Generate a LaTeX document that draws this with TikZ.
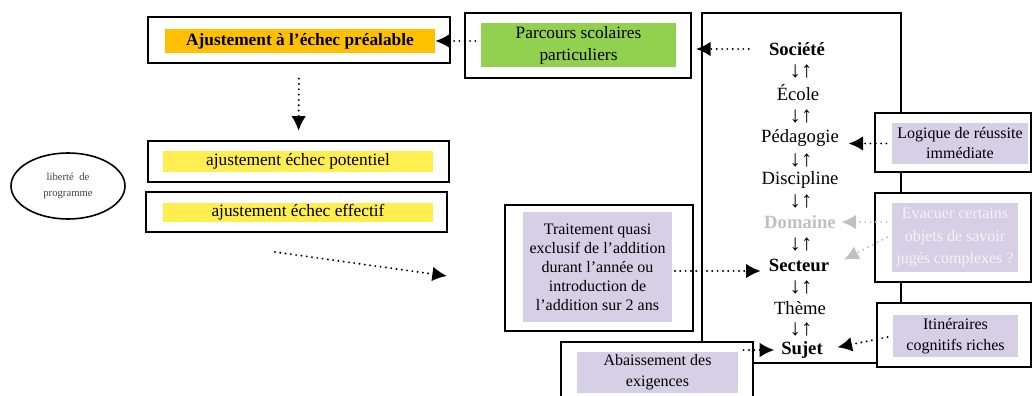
\documentclass[tikz,border=0pt]{standalone}
\usepackage{fontspec}
\setmainfont{Liberation Serif}
\usetikzlibrary{arrows.meta,fit,shapes.geometric}
\definecolor{PrevOrange}{RGB}{255,192,0}
\definecolor{PathGreen}{RGB}{146,208,80}
\definecolor{AdjYellow}{RGB}{255,238,80}
\definecolor{TagLavender}{RGB}{215,207,230}
\definecolor{FadeGray}{RGB}{192,192,192}
\definecolor{FadeText}{RGB}{244,244,244}

\tikzset{
  frame/.style={draw, line width=1.4pt, fill=white, inner sep=0pt},
  sized/.style 2 args={minimum width=#1*0.75pt, minimum height=#2*0.75pt},
  band/.style={inner sep=0pt, align=center},
  tag/.style={band, fill=TagLavender, font=\fontsize{12}{16}\selectfont},
  level/.style={inner sep=1pt, font=\fontsize{14}{16}\selectfont},
  keylevel/.style={level, font=\fontsize{14}{16}\selectfont\bfseries},
  updown/.style={inner sep=0pt, font=\fontsize{17}{18}\selectfont},
  link/.style={line width=1.6pt, line cap=round, dash pattern=on 0pt off 4pt,
    -{Latex[length=11pt,width=11pt]}},
  fadelink/.style={link, draw=FadeGray, -{Latex[length=11pt,width=11pt,color=FadeGray]}}
}

\begin{document}
\begin{tikzpicture}[x=0.75pt,y=-0.75pt]
  \clip (0,0) rectangle (1033,396);

  % chain of levels
  \node[frame, fill=none, fit={(702,13) (901,363)}] (chain) {};
  \node[keylevel] (soc) at (797,49) {Société};
  \node[level] (eco) at (798,93) {École};
  \node[level] (ped) at (800,138) {Pédagogie};
  \node[level] (dis) at (800,180) {Discipline};
  \node[keylevel, text=FadeGray] (dom) at (800,222) {Domaine};
  \node[keylevel] (sec) at (799,265) {Secteur};
  \node[level] (the) at (800,308) {Thème};
  \node[keylevel] (suj) at (802,350) {Sujet};
  \foreach \y [count=\i] in {71,116,160,201,244,287,329}
    \node[updown] (ud\i) at (801,\y) {↓↑};

  % adjustment boxes
  \node[frame, fit={(148,17) (450,63)}] (preOut) {};
  \node[band, sized={270}{24}, fill=PrevOrange, font=\fontsize{13}{16}\selectfont\bfseries]
    (preIn) at (300,41) {Ajustement à l’échec préalable};
  \node[frame, fit={(465,13) (691,78)}] (parOut) {};
  \node[band, sized={195}{44}, fill=PathGreen, font=\fontsize{13}{16.5}\selectfont]
    (parIn) at (578.5,45) {Parcours scolaires\\particuliers};
  \node[frame, fit={(148,141) (449,182)}] (potOut) {};
  \node[band, sized={270}{21}, fill=AdjYellow, font=\fontsize{13}{16}\selectfont]
    (potIn) at (298,161.5) {ajustement échec potentiel};
  \node[frame, fit={(146,192) (447,232)}] (effOut) {};
  \node[band, sized={270}{19}, fill=AdjYellow, font=\fontsize{13}{16}\selectfont]
    (effIn) at (298,212.5) {ajustement échec effectif};
  \node[draw, ellipse, line width=1.2pt, sized={114}{66}, inner sep=0pt, align=center,
    font=\fontsize{8}{12.5}\selectfont, text=black!75]
    (libre) at (68,186) {liberté\ \ de\\programme};

  % side boxes
  \node[frame, fit={(875,113) (1031,172)}] (logOut) {};
  \node[tag, sized={136}{41}, font=\fontsize{12}{15}\selectfont] (logIn) at (960,143.5)
    {Logique de réussite\\immédiate};
  \node[frame, fit={(875,193) (1031,282)}] (evaOut) {};
  \node[tag, sized={126}{69}, text=FadeText, font=\fontsize{12}{16.8}\selectfont]
    (evaIn) at (955,237.5) {Evacuer certains\\objets de savoir\\jugés complexes ?};
  \node[frame, fit={(877,303) (1031,367)}] (itiOut) {};
  \node[tag, sized={125}{42}] (itiIn) at (955.5,336) {Itinéraires\\cognitifs riches};
  \node[frame, fit={(505,205) (693,331)}] (traOut) {};
  \node[tag, sized={149}{110}, font=\fontsize{12}{14.3}\selectfont] (traIn) at (597.5,267)
    {Traitement quasi\\exclusif de l’addition\\durant l’année ou\\introduction de\\l’addition sur 2 ans};
  \node[frame, fit={(561,342) (753,402)}] (abaOut) {};
  \node[tag, sized={161}{41}] (abaIn) at (657.5,372.5) {Abaissement des\\exigences};

  % dotted links
  \draw[link, shorten <=14pt, shorten >=3pt] (soc.west) -- (soc.west -| parOut.east);
  \draw[link, shorten <=4pt] (parIn.west |- preIn.east) -- (preIn.east);
  \draw[link, shorten <=11pt, shorten >=7pt] (preOut.south) -- (potOut.north);
  \coordinate (dotA) at (275,252);
  \coordinate (dotB) at (447,276);
  \draw[link] (dotA) -- (dotB);
  \draw[link, shorten <=2pt, shorten >=5pt] ([yshift=-3pt]traIn.east) -- ([yshift=-3pt]traIn.east -| sec.west);
  \draw[link, shorten <=4pt, shorten >=6pt] (logIn.west) -- (logIn.west -| ped.east);
  \draw[fadelink, shorten <=4pt, shorten >=3pt] (evaIn.west |- dom.east) -- (dom.east);
  \draw[fadelink, shorten <=4pt] ([yshift=2pt]evaIn.west) -- ([xshift=10pt,yshift=-2pt]sec.north east);
  \draw[link, shorten <=4pt, shorten >=10pt] (itiIn.west) -- (suj.east);
  \draw[link, shorten <=4pt, shorten >=4pt] (abaIn.east |- suj.west) -- (suj.west);
\end{tikzpicture}
\end{document}
